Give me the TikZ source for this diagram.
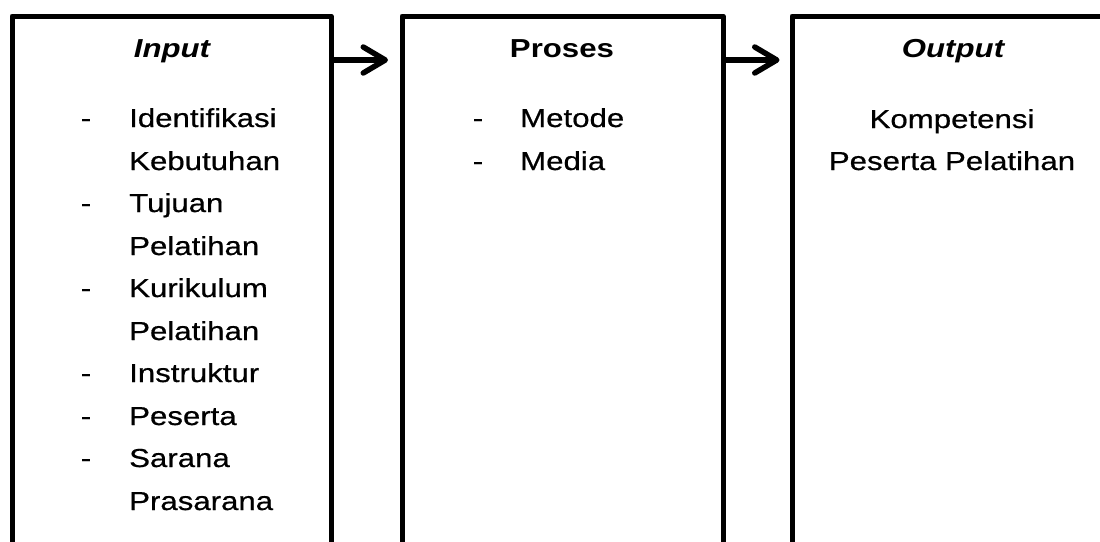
\documentclass[tikz,border=0pt]{standalone}
\usepackage{fontspec}
\setmainfont[FakeStretch=1.2, UprightFeatures={FakeBold=0.6}]{Liberation Sans}
\usetikzlibrary{arrows.meta}
\begin{document}
\begin{tikzpicture}[x=1pt,y=1pt,
  box/.style={draw, line width=5pt, line join=round, minimum height=600pt, anchor=north west, inner sep=0pt, outer sep=0pt},
  txt/.style={anchor=base west, inner sep=0pt, font=\fontsize{26}{42.6}\selectfont},
  dsh/.style={anchor=base, inner sep=0pt, font=\fontsize{26}{42.6}\selectfont},
  ctr/.style={anchor=base, inner sep=0pt, font=\fontsize{26}{42.6}\selectfont},
  ttl/.style={anchor=base, inner sep=0pt, font=\fontsize{26}{42.6}\selectfont\bfseries},
  arr/.style={line width=5.5pt, -{Straight Barb[length=22pt, width=26pt, round]}}]
\useasboundingbox (0,0) rectangle (1100,-541);
\clip (0,0) rectangle (1100,-541);
\node[box, minimum width=319pt] (in) at (12,-16) {};
\node[box, minimum width=321pt] (proc) at (402,-16) {};
\node[box, minimum width=322pt] (out) at (792,-16) {};
\coordinate (ylev) at (0,-60);
\draw[arr, shorten >=14pt] (in.east |- ylev) -- (proc.west |- ylev);
\draw[arr, shorten >=12.5pt] (proc.east |- ylev) -- (out.west |- ylev);
% titles
\node[ttl] (tin) at (172,-57) {\itshape Input};
\node[ttl] (tproc) at (562,-57) {Proses};
\node[ttl] (tout) at (953,-57) {\itshape Output};
% input list
\node[dsh] (d1) at (86,-127) {-};
\node[txt] (i1) at (129,-127) {Identifikasi};
\node[txt] (i1b) at (129,-170) {Kebutuhan};
\node[dsh] (d2) at (86,-212) {-};
\node[txt] (i2) at (129,-212) {Tujuan};
\node[txt] (i2b) at (129,-255) {Pelatihan};
\node[dsh] (d3) at (86,-297) {-};
\node[txt] (i3) at (129,-297) {Kurikulum};
\node[txt] (i3b) at (129,-340) {Pelatihan};
\node[dsh] (d4) at (86,-382) {-};
\node[txt] (i4) at (129,-382) {Instruktur};
\node[dsh] (d5) at (86,-425) {-};
\node[txt] (i5) at (129,-425) {Peserta};
\node[dsh] (d6) at (86,-467) {-};
\node[txt] (i6) at (129,-467) {Sarana};
\node[txt] (i6b) at (129,-510) {Prasarana};
% proses list
\node[dsh] (pd1) at (478,-127) {-};
\node[txt] (p1) at (520,-127) {Metode};
\node[dsh] (pd2) at (478,-170) {-};
\node[txt] (p2) at (520,-170) {Media};
% output
\node[ctr] (o1) at (952,-128) {Kompetensi};
\node[ctr] (o2) at (952,-170) {Peserta Pelatihan};
\end{tikzpicture}
\end{document}
